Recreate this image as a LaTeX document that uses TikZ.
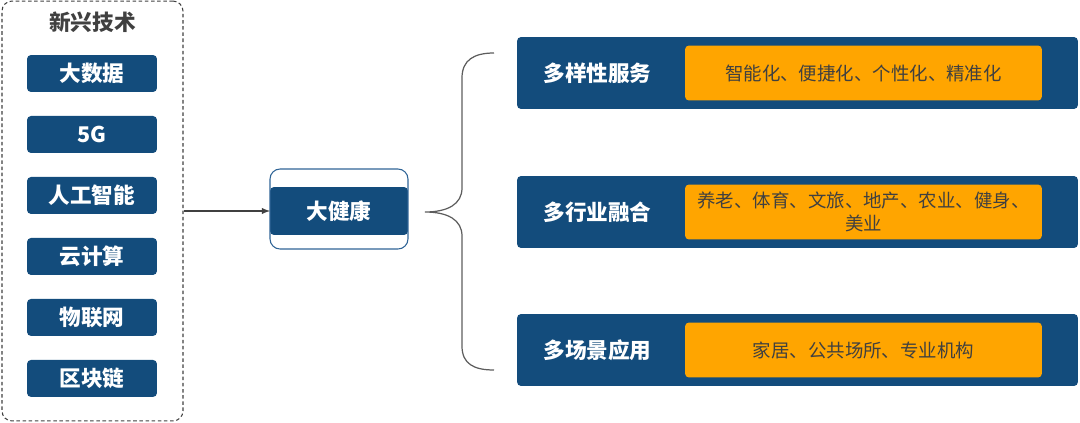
\documentclass[tikz,border=0pt]{standalone}
\usepackage{fontspec}
\setmainfont{Noto Sans CJK SC}
\usepackage{tikz}
\usetikzlibrary{arrows,positioning}
\definecolor{techblue}{HTML}{134C7C}
\definecolor{frameblue}{HTML}{2F6496}
\definecolor{chiporange}{HTML}{FFA500}
\definecolor{darktext}{HTML}{404040}
\tikzset{%
	group/.style    = {draw=darktext, dash pattern=on 2pt off 1.5pt, line width=0.6pt, rounded corners=0.2cm, minimum width=3.62cm, minimum height=8.4cm}, % Dashed frame
	grouptitle/.style = {text=darktext, font=\fontsize{12.3}{14}\selectfont\bfseries, inner sep=0pt},
	techbox/.style  = {fill=techblue, rounded corners=0.08cm, minimum width=2.6cm, minimum height=0.74cm, text=white, font=\fontsize{12.3}{14}\selectfont\bfseries, inner sep=0pt, outer sep=0pt},
	hubbar/.style   = {techbox, minimum width=2.76cm, minimum height=0.96cm},
	hubframe/.style = {draw=frameblue, line width=0.6pt, rounded corners=0.2cm, minimum width=2.76cm, minimum height=1.6cm, outer sep=0pt},
	rowbox/.style   = {fill=techblue, rounded corners=0.08cm, minimum width=11.22cm, minimum height=1.44cm, outer sep=0pt},
	rowlabel/.style = {text=white, font=\fontsize{12.3}{14}\selectfont\bfseries, inner sep=0pt},
	chip/.style     = {fill=chiporange, rounded corners=0.08cm, minimum width=7.14cm, minimum height=1.1cm, text=darktext, font=\fontsize{10.5}{13}\selectfont, align=center, inner sep=0pt, outer sep=0pt},
	arrow/.style    = {draw=darktext, line width=0.6pt, -latex},
	brace/.style    = {draw=darktext!85, line width=0.7pt},
}
\begin{document}
\begin{tikzpicture}[x=0.02cm, y=-0.02cm]
	\useasboundingbox (0,0) rectangle (1080,423);
	% emerging technologies
	\node[group] (tech) at (92.5,211) {};
	\node[grouptitle] (techtitle) at (92.5,22) {新兴技术};
	\node[techbox] (bigdata) at (92,73.5) {大数据};
	\node[techbox,below=0.48cm of bigdata] (fiveg) {5G};
	\node[techbox,below=0.48cm of fiveg] (ai) {人工智能};
	\node[techbox,below=0.48cm of ai] (cloud) {云计算};
	\node[techbox,below=0.48cm of cloud] (iot) {物联网};
	\node[techbox,below=0.48cm of iot] (chain) {区块链};

	% hub
	\node[hubbar] (health) at (339,211) {大健康};
	\node[hubframe] (healthframe) at (339,209) {};
	\draw[arrow] (tech.east) -- (health.west);

	% rows
	\node[rowbox] (service) at (797.5,73) {};
	\node[rowlabel,right=0.52cm of service.west] (servicelbl) {多样性服务};
	\node[chip,left=0.72cm of service.east] (servicechip) {智能化、便捷化、个性化、精准化};

	\node[rowbox] (industry) at (797.5,212) {};
	\node[rowlabel,right=0.52cm of industry.west] (industrylbl) {多行业融合};
	\node[chip,left=0.72cm of industry.east] (industrychip) {养老、体育、文旅、地产、农业、健身、\\美业};

	\node[rowbox] (scene) at (797.5,350) {};
	\node[rowlabel,right=0.52cm of scene.west] (scenelbl) {多场景应用};
	\node[chip,left=0.72cm of scene.east] (scenechip) {家居、公共场所、专业机构};

	% brace
	\coordinate (btop) at (494,53);
	\coordinate (bbot) at (494,370);
	\coordinate (btip) at (425,212);
	\draw[brace] (btop) .. controls (474,53) and (462,60) .. (462,78) -- (462,188)
		.. controls (462,204) and (448,212) .. (btip)
		.. controls (448,212) and (462,220) .. (462,236) -- (462,346)
		.. controls (462,364) and (474,370) .. (bbot);
\end{tikzpicture}
\end{document}
